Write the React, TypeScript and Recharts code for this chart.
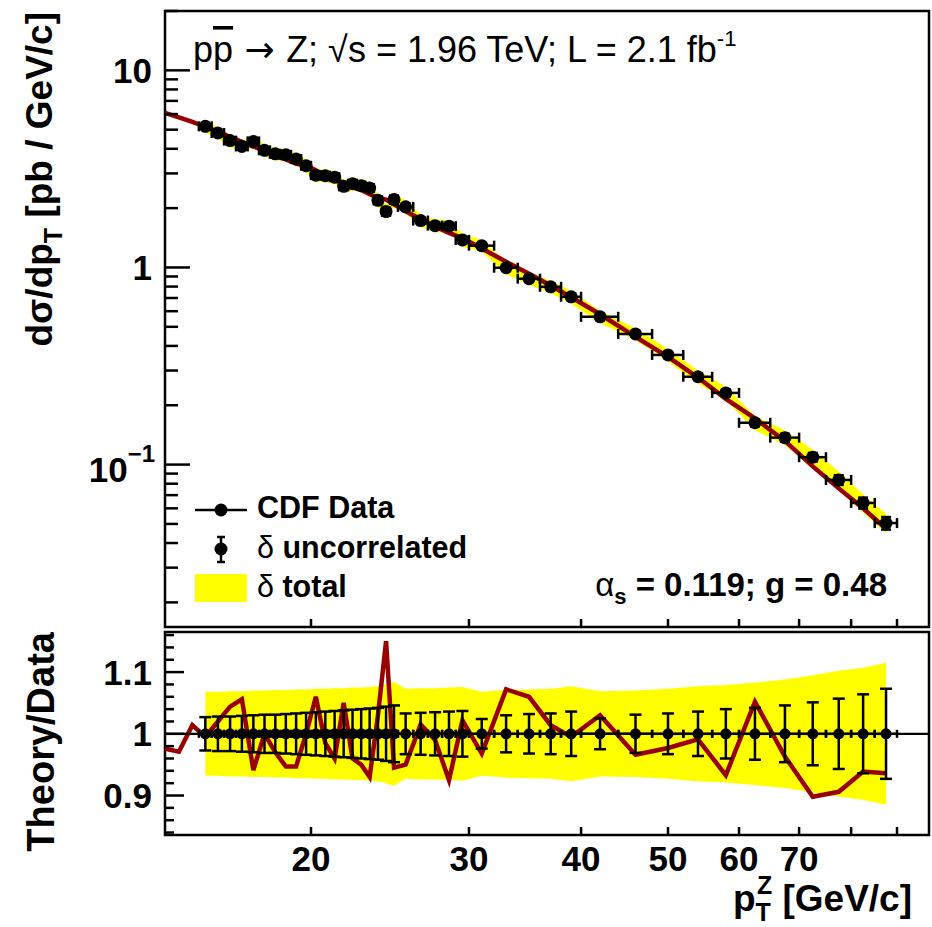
import React from "react";
import {
  ComposedChart,
  XAxis,
  YAxis,
  Line,
  Area,
  Scatter,
  ErrorBar,
  ReferenceLine,
  ReferenceArea,
} from "recharts";

// ---------------- data ----------------
const PT = [
  15.25, 15.75, 16.25, 16.75, 17.25, 17.75, 18.25, 18.75, 19.25, 19.75,
  20.25, 20.75, 21.25, 21.75, 22.25, 22.75, 23.25, 23.75, 24.25, 24.75,
  25.5, 26.5, 27.5, 28.5, 29.5,
  31, 33, 35, 37, 39,
  42, 46, 50, 54, 58,
  62.5, 67.5, 72.5, 77.5, 82.5, 87.5,
];
const BIN_HALF = [
  0.25, 0.25, 0.25, 0.25, 0.25, 0.25, 0.25, 0.25, 0.25, 0.25,
  0.25, 0.25, 0.25, 0.25, 0.25, 0.25, 0.25, 0.25, 0.25, 0.25,
  0.5, 0.5, 0.5, 0.5, 0.5,
  1, 1, 1, 1, 1,
  2, 2, 2, 2, 2,
  2.5, 2.5, 2.5, 2.5, 2.5, 2.5,
];
const XSEC = [
  5.2, 4.81, 4.4, 4.11, 4.36, 3.93, 3.77, 3.73, 3.55, 3.28,
  2.94, 2.92, 2.87, 2.58, 2.66, 2.6, 2.53, 2.19, 1.92, 2.21,
  2.03, 1.73, 1.63, 1.62, 1.38,
  1.29, 0.997, 0.877, 0.798, 0.71,
  0.562, 0.46, 0.36, 0.279, 0.231,
  0.163, 0.137, 0.109, 0.0836, 0.0639, 0.0505,
];
const RATIO = [
  0.995, 1.02, 1.044, 1.056, 0.941, 1.0, 0.97, 0.947, 0.947, 1.0,
  1.06, 0.985, 0.96, 1.05, 0.96, 0.95, 0.93, 1.03, 1.15, 0.945,
  0.95, 1.015, 0.99, 0.925, 1.022,
  0.968, 1.072, 1.06, 1.014, 0.995,
  1.03, 0.966, 0.977, 0.991, 0.933,
  1.052, 0.963, 0.898, 0.906, 0.939, 0.936,
];
const UNC_ERR = [
  0.027, 0.028, 0.028, 0.029, 0.03, 0.031, 0.031, 0.032, 0.033, 0.034,
  0.035, 0.036, 0.037, 0.038, 0.039, 0.04, 0.041, 0.042, 0.044, 0.046,
  0.033, 0.034, 0.035, 0.036, 0.037,
  0.024, 0.03, 0.032, 0.033, 0.036,
  0.025, 0.031, 0.033, 0.036, 0.04,
  0.042, 0.046, 0.051, 0.057, 0.064, 0.073,
];
const TOT_ERR = [
  0.068, 0.068, 0.069, 0.069, 0.07, 0.07, 0.071, 0.071, 0.072, 0.072,
  0.073, 0.073, 0.074, 0.074, 0.075, 0.075, 0.076, 0.077, 0.08, 0.084,
  0.073, 0.074, 0.074, 0.075, 0.076,
  0.068, 0.071, 0.072, 0.073, 0.077,
  0.069, 0.07, 0.073, 0.077, 0.079,
  0.083, 0.088, 0.095, 0.102, 0.107, 0.115,
];
// theory below the first shown data bin
const LEAD_PT = [13.75, 14.25, 14.75];
const LEAD_THEORY = [6.08, 5.78, 5.47];
const LEAD_RATIO = [0.976, 0.971, 1.014];

const X_DOMAIN = [13.75, 97.7];
const Y_DOMAIN_TOP = [0.015, 20];
const Y_DOMAIN_RATIO = [0.836, 1.165];
const X_TICKS = [20, 30, 40, 50, 60, 70, 80, 90];
const X_LABELLED = [20, 30, 40, 50, 60, 70];
const Y_TICKS_TOP = [
  0.02, 0.03, 0.04, 0.05, 0.06, 0.07, 0.08, 0.09, 0.1,
  0.2, 0.3, 0.4, 0.5, 0.6, 0.7, 0.8, 0.9, 1,
  2, 3, 4, 5, 6, 7, 8, 9, 10, 20,
];
const Y_MAJOR_TOP = [0.1, 1, 10];
const Y_TICKS_RATIO = [
  0.84, 0.86, 0.88, 0.9, 0.92, 0.94, 0.96, 0.98, 1.0,
  1.02, 1.04, 1.06, 1.08, 1.1, 1.12, 1.14, 1.16,
];
const Y_MAJOR_RATIO = [0.9, 1.0, 1.1];

// ---------------- derived tables ----------------
const topPoints = PT.map((x, i) => ({
  x,
  y: XSEC[i],
  ex: [BIN_HALF[i], BIN_HALF[i]],
  ey: [XSEC[i] * UNC_ERR[i], XSEC[i] * UNC_ERR[i]],
  band: [XSEC[i] * (1 - TOT_ERR[i]), XSEC[i] * (1 + TOT_ERR[i])],
}));
const topTheory = [
  ...LEAD_PT.map((x, i) => ({ x, y: LEAD_THEORY[i] })),
  ...PT.map((x, i) => ({ x, y: XSEC[i] * RATIO[i] })),
];
const ratioPoints = PT.map((x, i) => ({
  x,
  y: 1,
  ex: [BIN_HALF[i], BIN_HALF[i]],
  ey: [UNC_ERR[i], UNC_ERR[i]],
  band: [1 - TOT_ERR[i], 1 + TOT_ERR[i]],
}));
const ratioLine = [
  ...LEAD_PT.map((x, i) => ({ x, y: LEAD_RATIO[i] })),
  ...PT.map((x, i) => ({ x, y: RATIO[i] })),
];

// ---------------- styling ----------------
const FONT = '"Liberation Sans", Arial, Helvetica, sans-serif';
const RED = "#990000";
const YELLOW = "#ffff00";
const LW = 2.5;

const isIn = (v: number, arr: number[]) => arr.some((a) => Math.abs(a - v) < 1e-9);

const XTickTop = (p: any) => (
  <line x1={p.x} x2={p.x} y1={p.y} y2={p.y - 8} stroke="#000" strokeWidth={LW} />
);

const XTickBottom = (p: any) => {
  const v = p.payload.value;
  return (
    <g>
      <line x1={p.x} x2={p.x} y1={p.y} y2={p.y - 8} stroke="#000" strokeWidth={LW} />
      {isIn(v, X_LABELLED) && (
        <text x={p.x} y={p.y + 36} textAnchor="middle" fontFamily={FONT} fontWeight="bold" fontSize={35} fill="#000">
          {String(v)}
        </text>
      )}
    </g>
  );
};

const YTickTop = (p: any) => {
  const v = p.payload.value;
  const major = isIn(v, Y_MAJOR_TOP);
  let label: React.ReactNode = null;
  if (major) {
    if (Math.abs(v - 0.1) < 1e-9) {
      label = (
        <text x={p.x - 10} y={p.y + 17} textAnchor="end" fontFamily={FONT} fontWeight="bold" fontSize={35} fill="#000">
          10<tspan dy={-20} fontSize={24}>−1</tspan>
        </text>
      );
    } else {
      label = (
        <text x={p.x - 13} y={p.y + 12.5} textAnchor="end" fontFamily={FONT} fontWeight="bold" fontSize={35} fill="#000">
          {v === 10 ? "10" : "1"}
        </text>
      );
    }
  }
  return (
    <g>
      <line x1={p.x} x2={p.x + (major ? 25 : 13)} y1={p.y} y2={p.y} stroke="#000" strokeWidth={LW} />
      {label}
    </g>
  );
};

const YTickRatio = (p: any) => {
  const v = p.payload.value;
  const major = isIn(v, Y_MAJOR_RATIO);
  return (
    <g>
      <line x1={p.x} x2={p.x + (major ? 19 : 9)} y1={p.y} y2={p.y} stroke="#000" strokeWidth={LW} />
      {major && (
        <text x={p.x - 13} y={p.y + 12.5} textAnchor="end" fontFamily={FONT} fontWeight="bold" fontSize={35} fill="#000">
          {Math.abs(v - 1) < 1e-9 ? "1" : v.toFixed(1)}
        </text>
      )}
    </g>
  );
};

const Dot = (r: number) => (p: any) =>
  p.cx == null || p.cy == null ? <g /> : <circle cx={p.cx} cy={p.cy} r={r} fill="#000" />;

export default function App() {
  return (
    <div style={{ position: "absolute", left: 0, top: 0, width: 932, height: 927, background: "#fff", fontFamily: FONT }}>
      {/* ratio panel */}
      <div style={{ position: "absolute", left: 0, top: 0 }}>
        <ComposedChart width={932} height={927} margin={{ top: 632, right: 3, bottom: 62, left: 105 }}>
          <XAxis
            dataKey="x"
            type="number"
            scale="log"
            domain={X_DOMAIN}
            allowDataOverflow
            ticks={X_TICKS}
            interval={0}
            tickSize={0}
            tickMargin={0}
            axisLine={false}
            tickLine={false}
            tick={XTickBottom}
            height={30}
          />
          <YAxis
            dataKey="y"
            type="number"
            domain={Y_DOMAIN_RATIO}
            allowDataOverflow
            ticks={Y_TICKS_RATIO}
            interval={0}
            tickSize={0}
            tickMargin={0}
            axisLine={false}
            tickLine={false}
            tick={YTickRatio}
            width={60}
          />
          <Area
            data={ratioPoints}
            dataKey="band"
            type="linear"
            stroke="none"
            fill={YELLOW}
            fillOpacity={1}
            isAnimationActive={false}
          />
          <Line
            data={ratioLine}
            dataKey="y"
            type="linear"
            stroke={RED}
            strokeWidth={4.5}
            dot={false}
            isAnimationActive={false}
          />
          <ReferenceLine y={1} stroke="#000" strokeWidth={2.2} />
          <Scatter data={ratioPoints} dataKey="y" fill="#000" shape={Dot(5.5)} isAnimationActive={false}>
            <ErrorBar dataKey="ey" direction="y" width={6} stroke="#000" strokeWidth={LW} isAnimationActive={false} />
            <ErrorBar dataKey="ex" direction="x" width={4} stroke="#000" strokeWidth={LW} isAnimationActive={false} />
          </Scatter>
          <ReferenceArea
            x1={X_DOMAIN[0]}
            x2={X_DOMAIN[1]}
            y1={Y_DOMAIN_RATIO[0]}
            y2={Y_DOMAIN_RATIO[1]}
            fill="none"
            fillOpacity={0}
            stroke="#000"
            strokeWidth={LW}
            ifOverflow="visible"
          />
        </ComposedChart>
      </div>

      {/* main panel */}
      <div style={{ position: "absolute", left: 0, top: 0 }}>
        <ComposedChart width={932} height={660} margin={{ top: 11, right: 3, bottom: 3, left: 105 }}>
          <XAxis
            dataKey="x"
            type="number"
            scale="log"
            domain={X_DOMAIN}
            allowDataOverflow
            ticks={X_TICKS}
            interval={0}
            tickSize={0}
            tickMargin={0}
            axisLine={false}
            tickLine={false}
            tick={XTickTop}
            height={30}
          />
          <YAxis
            dataKey="y"
            type="number"
            scale="log"
            domain={Y_DOMAIN_TOP}
            allowDataOverflow
            ticks={Y_TICKS_TOP}
            interval={0}
            tickSize={0}
            tickMargin={0}
            axisLine={false}
            tickLine={false}
            tick={YTickTop}
            width={60}
          />
          <Area
            data={topPoints}
            dataKey="band"
            type="linear"
            stroke="none"
            fill={YELLOW}
            fillOpacity={1}
            isAnimationActive={false}
          />
          <Line
            data={topTheory}
            dataKey="y"
            type="linear"
            stroke={RED}
            strokeWidth={4.5}
            dot={false}
            isAnimationActive={false}
          />
          <Scatter data={topPoints} dataKey="y" fill="#000" shape={Dot(6.5)} isAnimationActive={false}>
            <ErrorBar dataKey="ey" direction="y" width={5} stroke="#000" strokeWidth={LW} isAnimationActive={false} />
            <ErrorBar dataKey="ex" direction="x" width={5} stroke="#000" strokeWidth={LW} isAnimationActive={false} />
          </Scatter>
          <ReferenceArea
            x1={X_DOMAIN[0]}
            x2={X_DOMAIN[1]}
            y1={Y_DOMAIN_TOP[0]}
            y2={Y_DOMAIN_TOP[1]}
            fill="none"
            fillOpacity={0}
            stroke="#000"
            strokeWidth={LW}
            ifOverflow="visible"
          />
        </ComposedChart>
      </div>

      {/* annotations, legend, axis titles */}
      <svg width={932} height={927} style={{ position: "absolute", left: 0, top: 0, pointerEvents: "none" }}>
        <g fontFamily={FONT} fill="#000">
          <text x={193} y={62} fontSize={36}>
            p<tspan style={{ textDecoration: "overline" }}>p</tspan>
            <tspan fontFamily='"DejaVu Sans", sans-serif' fontSize={36}> → </tspan>Z; √s = 1.96 TeV; L = 2.1 fb
            <tspan dy={-16} fontSize={22}>-1</tspan>
          </text>

          {/* legend */}
          <line x1={195} x2={247} y1={510} y2={510} stroke="#000" strokeWidth={LW} />
          <circle cx={221} cy={510} r={6.5} fill="#000" />
          <text x={257} y={518} fontSize={30.5} fontWeight="bold">CDF Data</text>

          <line x1={221} x2={221} y1={537} y2={562} stroke="#000" strokeWidth={LW} />
          <line x1={217} x2={225} y1={537} y2={537} stroke="#000" strokeWidth={LW} />
          <line x1={217} x2={225} y1={562} y2={562} stroke="#000" strokeWidth={LW} />
          <circle cx={221} cy={549} r={6.5} fill="#000" />
          <text x={257} y={558} fontSize={30.5} fontWeight="bold">
            <tspan fontWeight="normal">δ</tspan> uncorrelated
          </text>

          <rect x={195} y={574} width={52} height={28} fill={YELLOW} />
          <text x={257} y={597} fontSize={30.5} fontWeight="bold">
            <tspan fontWeight="normal">δ</tspan> total
          </text>

          <text x={887} y={596} fontSize={33} fontWeight="bold" textAnchor="end">
            <tspan fontWeight="normal">α</tspan>
            <tspan dy={8} fontSize={22}>s</tspan>
            <tspan dy={-8}> = 0.119; g = 0.48</tspan>
          </text>

          {/* axis titles */}
          <text transform="translate(52,12) rotate(-90)" textAnchor="end" fontSize={37} fontWeight="bold">
            dσ/dp<tspan dy={10} fontSize={25}>T</tspan>
            <tspan dy={-10}> [pb / GeV/c]</tspan>
          </text>
          <text transform="translate(54,632) rotate(-90)" textAnchor="end" fontSize={38} fontWeight="bold">
            Theory/Data
          </text>
          <text x={912} y={911} textAnchor="end" fontSize={37} fontWeight="bold">
            p<tspan dy={10} fontSize={25}>T</tspan>
            <tspan dy={-27} dx={-14} fontSize={25}>Z</tspan>
            <tspan dy={17}> [GeV/c]</tspan>
          </text>
        </g>
      </svg>
    </div>
  );
}
